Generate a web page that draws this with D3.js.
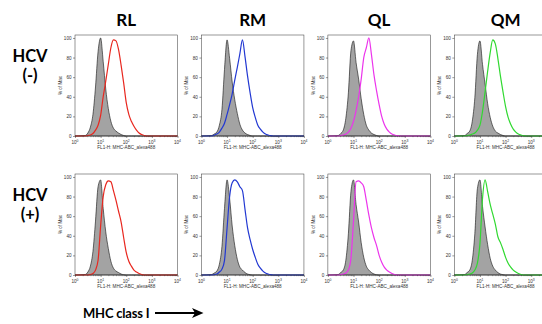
<!DOCTYPE html>
<html>
<head>
<meta charset="utf-8">
<script src="https://cdn.jsdelivr.net/npm/d3@7"></script>
<style>
  body { margin: 0; background: #fff; }
  svg { display: block; }
</style>
</head>
<body>
<div id="chart"></div>
<script>
// categories
const cellLines = ['RL', 'RM', 'QL', 'QM'];
const hcvGroups = ['(-)', '(+)'];
const lineColors = ['#e8271f', '#2238d2', '#ec34ec', '#30d930'];

// histogram bins, log10 of fluorescence (10^0 .. 10^4)
const binExp = [0, 0.4, 0.5, 0.6, 0.7, 0.8, 0.9, 1.0, 1.1, 1.2, 1.3, 1.4, 1.5, 1.6,
  1.7, 1.8, 1.9, 2.0, 2.1, 2.2, 2.3, 2.4, 2.5, 2.6, 2.7, 2.8, 4];
const yTicks = [0, 20, 40, 60, 80, 100];
const xTickExp = [0, 1, 2, 3, 4];

// HCV (-) : isotype control (grey) and MHC class I (coloured), % of max
const greyRLneg = [0, 0.5, 3, 9, 22, 50, 86, 100, 76, 48, 28, 15, 8, 5, 3, 1.5, 0.5, 0, 0, 0, 0, 0, 0, 0, 0, 0, 0];
const lineRLneg = [0, 0, 0.5, 1, 2.5, 6, 11, 21, 40, 56, 73, 90, 98, 97, 88, 72, 54, 34, 22, 15, 10, 6, 3, 1.5, 0.5, 0, 0];
const greyRMneg = [0, 0.5, 2, 4, 11, 27, 68, 98, 79, 55, 37, 23, 12, 6, 3, 1.5, 0.5, 0, 0, 0, 0, 0, 0, 0, 0, 0, 0];
const lineRMneg = [0, 0, 1, 2, 4, 8, 13, 22, 32, 43, 57, 70, 84, 98, 81, 61, 44, 29, 19, 11, 7, 4, 2, 1, 0.3, 0, 0];
const greyQLneg = [0, 0.5, 2.5, 6, 18, 44, 87, 97, 75, 58, 38, 22, 11, 6, 3, 1.5, 0.5, 0, 0, 0, 0, 0, 0, 0, 0, 0, 0];
const lineQLneg = [0, 0, 0.5, 1, 2, 4, 8, 15, 26, 40, 58, 80, 90, 100, 83, 62, 46, 32, 20, 12, 7, 4, 2, 1, 0.3, 0, 0];
const greyQMneg = [0, 0.5, 2.5, 5, 15, 39, 83, 97, 73, 53, 33, 19, 10, 5, 3, 1.5, 0.5, 0, 0, 0, 0, 0, 0, 0, 0, 0, 0];
const lineQMneg = [0, 0, 0.5, 1, 2, 3, 6, 11, 25, 45, 66, 85, 98, 94, 79, 61, 45, 30, 19, 12, 7, 4, 2, 1, 0.3, 0, 0];

// HCV (+)
const greyRLpos = [0, 0.5, 3, 9, 24, 55, 90, 97, 68, 44, 27, 14, 7, 4, 2.5, 1, 0.3, 0, 0, 0, 0, 0, 0, 0, 0, 0, 0];
const lineRLpos = [0, 0, 0, 0.5, 1.5, 5, 15, 50, 80, 92, 96, 95, 86, 76, 65, 54, 38, 23, 14, 9, 5, 3, 1.5, 0.5, 0, 0, 0];
const greyRMpos = [0, 0.5, 2, 4, 11, 29, 68, 97, 78, 50, 30, 16, 8, 5, 2.5, 1, 0.3, 0, 0, 0, 0, 0, 0, 0, 0, 0, 0];
const lineRMpos = [0, 0, 0.5, 1, 3, 6, 15, 48, 80, 94, 97, 95, 90, 86, 67, 48, 36, 26, 18, 11, 7, 4, 2, 1, 0.3, 0, 0];
const greyQLpos = [0, 0.5, 2.5, 5, 15, 42, 85, 97, 72, 54, 33, 18, 9, 5, 2.5, 1, 0.3, 0, 0, 0, 0, 0, 0, 0, 0, 0, 0];
const lineQLpos = [0, 0, 0.5, 1, 2, 5, 17, 55, 95, 96, 94, 90, 76, 61, 48, 38, 30, 20, 13, 8, 5, 3, 1.5, 0.5, 0, 0, 0];
const greyQMpos = [0, 0.5, 2.5, 5, 15, 42, 88, 97, 70, 49, 31, 17, 9, 5, 2.5, 1, 0.3, 0, 0, 0, 0, 0, 0, 0, 0, 0, 0];
const lineQMpos = [0, 0, 0.5, 1, 2, 5, 12, 32, 78, 97, 85, 72, 62, 52, 39, 33, 26, 18, 12, 8, 5, 3, 1.5, 0.5, 0, 0, 0];

const controlRows = [
  [greyRLneg, greyRMneg, greyQLneg, greyQMneg],
  [greyRLpos, greyRMpos, greyQLpos, greyQMpos],
];
const stainRows = [
  [lineRLneg, lineRMneg, lineQLneg, lineQMneg],
  [lineRLpos, lineRMpos, lineQLpos, lineQMpos],
];

const WIDTH = 542;
const HEIGHT = 324;
const PANEL_W = 102.5;
const PANEL_H = 101;
const colLeft = d3.scaleBand().domain(cellLines).range([75, 75 + 4 * 121.5]).paddingInner(19 / 121.5).paddingOuter(0).align(0);
const rowTop = d3.scalePoint().domain(hcvGroups).range([35, 174]);
const tickFont = '"Liberation Sans", Arial, sans-serif';
const headFont = 'Lato, "Open Sans", sans-serif';

const svg = d3.select('#chart')
  .append('svg')
  .attr('width', WIDTH)
  .attr('height', HEIGHT);

// column headers
svg.selectAll('text.col-head')
  .data(cellLines)
  .join('text')
  .attr('class', 'col-head')
  .attr('x', (d) => colLeft(d) + PANEL_W / 2)
  .attr('y', 26)
  .attr('text-anchor', 'middle')
  .attr('font-family', headFont)
  .attr('font-weight', 700)
  .attr('font-size', 17)
  .text((d) => d);

// row headers
hcvGroups.forEach((g) => {
  const t = rowTop(g);
  const lbl = svg.append('text')
    .attr('text-anchor', 'middle')
    .attr('font-family', headFont)
    .attr('font-weight', 700)
    .attr('font-size', 16.5);
  lbl.append('tspan').attr('x', 30).attr('y', t + 27).text('HCV');
  lbl.append('tspan').attr('x', 30).attr('y', t + 46).text(g);
});

// minor ticks on the log axis
const minorTicks = [];
[1, 10, 100, 1000].forEach((dec) => {
  for (let k = 2; k <= 9; k++) minorTicks.push(dec * k);
});

hcvGroups.forEach((g, ri) => {
  cellLines.forEach((c, ci) => {
    const left = colLeft(c);
    const top = rowTop(g);
    const bottom = top + PANEL_H;

    const x = d3.scaleLog().domain([1, 1e4]).range([left, left + PANEL_W]);
    const y = d3.scaleLinear().domain([0, 103]).range([bottom, top]);

    const control = binExp.map((e, i) => ({ e, v: controlRows[ri][ci][i] }));
    const stain = binExp.map((e, i) => ({ e, v: stainRows[ri][ci][i] }));

    const panel = svg.append('g');

    // grey control histogram
    panel.append('path')
      .datum(control)
      .attr('fill', '#a3a3a3')
      .attr('stroke', '#111')
      .attr('stroke-width', 0.6)
      .attr('d', d3.area()
        .x((d) => x(Math.pow(10, d.e)))
        .y0(y(0))
        .y1((d) => y(d.v))
        .curve(d3.curveMonotoneX));

    // coloured stained histogram
    panel.append('path')
      .datum(stain)
      .attr('fill', 'none')
      .attr('stroke', lineColors[ci])
      .attr('stroke-width', 1.2)
      .attr('stroke-linejoin', 'round')
      .attr('d', d3.line()
        .x((d) => x(Math.pow(10, d.e)))
        .y((d) => y(d.v))
        .curve(d3.curveMonotoneX));

    // frame
    panel.append('rect')
      .attr('x', left)
      .attr('y', top)
      .attr('width', PANEL_W)
      .attr('height', PANEL_H)
      .attr('fill', 'none')
      .attr('stroke', '#333')
      .attr('stroke-width', 0.5);

    // y axis
    const gy = panel.append('g')
      .attr('transform', `translate(${left},0)`)
      .call(d3.axisLeft(y).tickValues(yTicks).tickSize(2).tickPadding(1.5));
    gy.select('.domain').remove();
    gy.selectAll('line').attr('stroke', '#333').attr('stroke-width', 0.5);
    gy.selectAll('text')
      .attr('font-family', tickFont)
      .attr('font-size', 4.6)
      .attr('fill', '#333');

    // x axis, major and minor ticks
    const gx = panel.append('g')
      .attr('transform', `translate(0,${bottom})`)
      .call(d3.axisBottom(x).tickValues(xTickExp.map((e) => Math.pow(10, e))).tickSize(2).tickFormat(''));
    gx.select('.domain').remove();
    gx.selectAll('line').attr('stroke', '#333').attr('stroke-width', 0.5);
    const gxm = panel.append('g')
      .attr('transform', `translate(0,${bottom})`)
      .call(d3.axisBottom(x).tickValues(minorTicks).tickSize(1.2).tickFormat(''));
    gxm.select('.domain').remove();
    gxm.selectAll('line').attr('stroke', '#333').attr('stroke-width', 0.4);

    // x tick labels 10^n (the last one is clipped by the page edge, as in the original)
    xTickExp.forEach((e) => {
      const t = panel.append('text')
        .attr('x', x(Math.pow(10, e)))
        .attr('y', bottom + 7.5)
        .attr('text-anchor', 'middle')
        .attr('font-family', tickFont)
        .attr('font-size', 4.6)
        .attr('fill', '#333');
      t.append('tspan').text('10');
      t.append('tspan').attr('dy', -2).attr('font-size', 3.4).text(e);
    });

    // axis titles
    panel.append('text')
      .attr('x', left + PANEL_W / 2)
      .attr('y', bottom + 13)
      .attr('text-anchor', 'middle')
      .attr('font-family', tickFont)
      .attr('font-size', 4.6)
      .attr('fill', '#333')
      .text('FL1-H: MHC-ABC_alexa488');
    panel.append('text')
      .attr('transform', `translate(${left - 13},${top + PANEL_H / 2}) rotate(-90)`)
      .attr('text-anchor', 'middle')
      .attr('font-family', tickFont)
      .attr('font-size', 4.6)
      .attr('fill', '#333')
      .text('% of Max');
  });
});

// bottom label with arrow
svg.append('text')
  .attr('x', 83)
  .attr('y', 318)
  .attr('font-family', headFont)
  .attr('font-weight', 700)
  .attr('font-size', 13)
  .attr('letter-spacing', -0.2)
  .text('MHC class I');
svg.append('line')
  .attr('x1', 155).attr('y1', 313)
  .attr('x2', 198).attr('y2', 313)
  .attr('stroke', '#000')
  .attr('stroke-width', 1.8);
svg.append('path')
  .attr('d', 'M192,308 L203.5,313 L192,318 L195,313 Z')
  .attr('fill', '#000');
</script>
</body>
</html>
